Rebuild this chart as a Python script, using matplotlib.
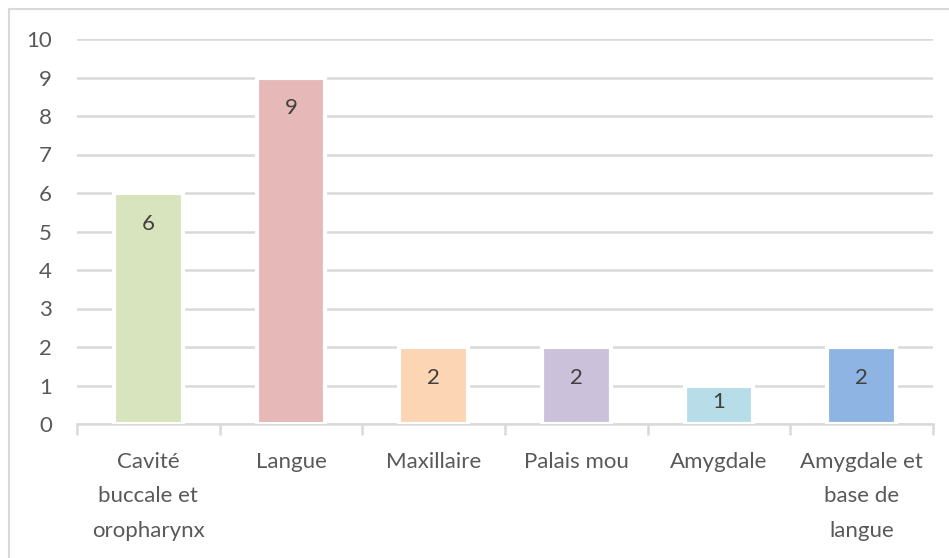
import matplotlib.pyplot as plt
from matplotlib.lines import Line2D

# Data
categories = ["Cavité\nbuccale et\noropharynx", "Langue", "Maxillaire",
              "Palais mou", "Amygdale", "Amygdale et\nbase de\nlangue"]
values = [6, 9, 2, 2, 1, 2]
colors = ["#D7E4BD", "#E6B9B8", "#FCD5B5", "#CCC1DA", "#B7DEE8", "#8EB4E3"]
yticks = list(range(0, 11))

text_color = "#595959"
grid_color = "#D9D9D9"

plt.rcParams['font.family'] = ['Lato', 'DejaVu Sans']
fs = 16

fig = plt.figure(figsize=(9.49, 5.58), dpi=100)
ax = fig.add_axes([77 / 949, 1 - 424 / 558, (933 - 77) / 949, (424 - 39) / 558])

x = range(len(categories))
bars = ax.bar(x, values, width=0.48, color=colors, edgecolor="white",
              linewidth=3, zorder=3)

# Labels inside the bar tops (Excel "inside end")
for b, v in zip(bars, values):
    y = v - min(0.8, 0.42 * v)
    ax.text(b.get_x() + b.get_width() / 2, y, str(v),
            ha="center", va="center", fontsize=fs, color="#404040", zorder=4)

ax.set_xlim(-0.5, len(categories) - 0.5)
ax.set_ylim(0, 10)
ax.set_yticks(yticks)
ax.yaxis.grid(True, color=grid_color, linewidth=1.8, zorder=0)
ax.set_axisbelow(True)

for s in ["top", "right", "left"]:
    ax.spines[s].set_visible(False)
ax.spines["bottom"].set_color(grid_color)
ax.spines["bottom"].set_linewidth(1.8)

ax.tick_params(axis="y", length=0, labelsize=fs, labelcolor=text_color, pad=18)
ax.set_xticks([i - 0.5 for i in range(len(categories) + 1)], minor=False)
ax.set_xticklabels([])
ax.tick_params(axis="x", which="major", length=8, width=1.8, color=grid_color,
               direction="out")
ax.set_xticks(list(x), minor=True)
ax.set_xticklabels(categories, minor=True)
ax.tick_params(axis="x", which="minor", length=0, labelsize=fs,
               labelcolor=text_color, pad=20)
for lab in ax.get_xticklabels(minor=True):
    lab.set_linespacing(1.9)
    lab.set_va("top")

# Chart area border (top and left visible)
fig.add_artist(Line2D([9 / 949, 9 / 949], [0, 1 - 9 / 558], transform=fig.transFigure,
                      color=grid_color, linewidth=1.5))
fig.add_artist(Line2D([9 / 949, 1], [1 - 9 / 558, 1 - 9 / 558], transform=fig.transFigure,
                      color=grid_color, linewidth=1.5))

fig.savefig("out.png", dpi=100)
